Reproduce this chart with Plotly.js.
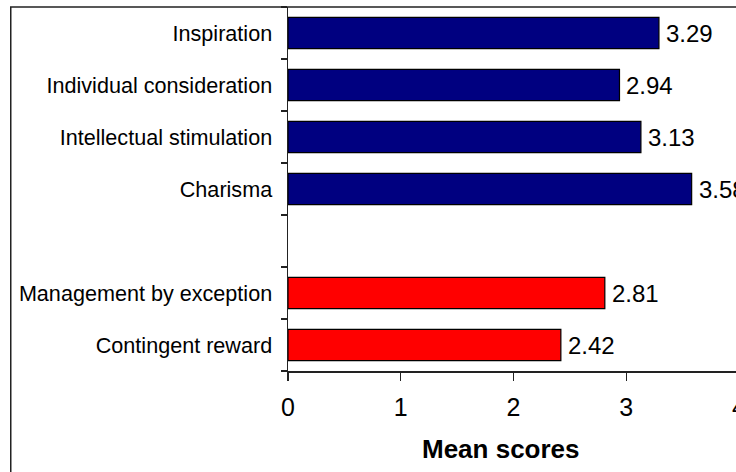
<!DOCTYPE html>
<html><head><meta charset="utf-8">
<script src="https://cdn.plot.ly/plotly-3.0.1.min.js"></script>
<style>html,body{margin:0;padding:0;overflow:hidden;background:#fff;}</style>
</head><body><div id="chart"></div>
<script>
// Categories from bottom to top (one empty slot between the two groups)
const categories = ["Contingent reward", "Management by exception", " ", "Charisma", "Intellectual stimulation", "Individual consideration", "Inspiration"];
const transactionalLabels = ["Contingent reward", "Management by exception"];
const transactionalScores = [2.42, 2.81];
const transformationalLabels = ["Charisma", "Intellectual stimulation", "Individual consideration", "Inspiration"];
const transformationalScores = [3.58, 3.13, 2.94, 3.29];
const xTickValues = [0, 1, 2, 3, 4];
const xTickLabels = ["0", "1", "2", "3", "4"];
const xAxisTitle = "Mean scores";

const FONT = "Arial, 'Liberation Sans', Helvetica, sans-serif";
const W = 770, H = 480;
const L = 288, PW = 450.6, T = 7, PH = 363.7;

const barLine = {color: "#000", width: 1.2};
const traces = [
  {type: "bar", orientation: "h", x: transactionalScores, y: transactionalLabels,
   marker: {color: "#FF0000", line: barLine}, hoverinfo: "x+y"},
  {type: "bar", orientation: "h", x: transformationalScores, y: transformationalLabels,
   marker: {color: "#000080", line: barLine}, hoverinfo: "x+y"}
];

const annotations = [];
function addValueLabels(labels, scores) {
  labels.forEach((c, i) => annotations.push({
    x: scores[i], y: c, xref: "x", yref: "y", text: scores[i].toFixed(2),
    showarrow: false, xanchor: "left", yanchor: "middle", xshift: 5,
    font: {family: FONT, size: 24, color: "#000"}
  }));
}
addValueLabels(transactionalLabels, transactionalScores);
addValueLabels(transformationalLabels, transformationalScores);
annotations.push({
  xref: "paper", yref: "paper", x: (501 - L) / PW, y: (T + PH - 449) / PH,
  text: "<b>" + xAxisTitle + "</b>", showarrow: false, xanchor: "center", yanchor: "middle",
  font: {family: FONT, size: 26, color: "#000"}
});

const layout = {
  width: W, height: H,
  margin: {l: L, r: W - L - PW, t: T, b: H - T - PH, pad: 0},
  paper_bgcolor: "#fff", plot_bgcolor: "#fff",
  showlegend: false, barmode: "overlay", bargap: 0.4,
  font: {family: FONT, color: "#000"},
  xaxis: {
    range: [0, 4], tickvals: xTickValues, ticktext: xTickLabels,
    ticks: "outside", ticklen: 8, tickwidth: 1.3, tickcolor: "#222",
    showline: true, linecolor: "#222", linewidth: 1.5,
    showgrid: false, zeroline: false, automargin: false, ticklabelstandoff: 5,
    tickfont: {family: FONT, size: 25, color: "#000"}, fixedrange: true
  },
  yaxis: {
    type: "category", categoryorder: "array", categoryarray: categories,
    range: [-0.5, categories.length - 0.5], tickson: "boundaries",
    ticks: "outside", ticklen: 6, tickwidth: 1.3, tickcolor: "#222",
    showline: true, linecolor: "#222", linewidth: 1.5,
    showgrid: false, zeroline: false, automargin: false, ticklabelstandoff: 10,
    tickfont: {family: FONT, size: 21.6, color: "#000"}, fixedrange: true
  },
  shapes: [{
    type: "rect", xref: "paper", yref: "paper",
    x0: (11 - L) / PW, x1: (765 - L) / PW, y0: (T + PH - 478) / PH, y1: 1,
    line: {color: "#222", width: 1.5}, fillcolor: "rgba(0,0,0,0)", layer: "above"
  }],
  annotations: annotations
};

Plotly.newPlot("chart", traces, layout, {displayModeBar: false, staticPlot: true});
</script></body></html>
